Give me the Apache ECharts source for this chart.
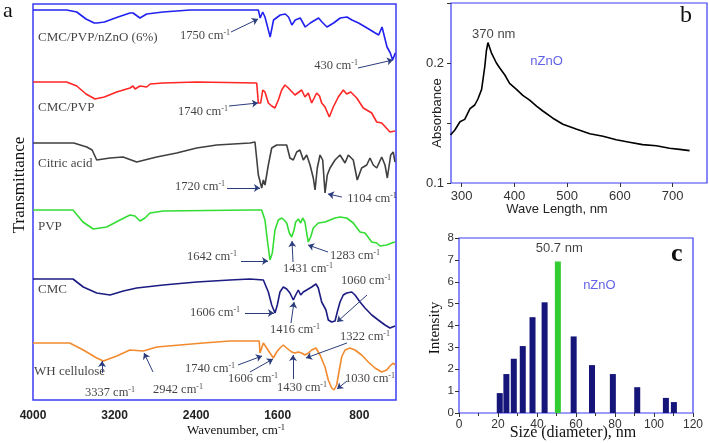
<!DOCTYPE html>
<html><head><meta charset="utf-8">
<script src="https://cdn.jsdelivr.net/npm/echarts@6/dist/echarts.min.js"></script>
<style>html,body{margin:0;padding:0;background:#fff}#c{width:709px;height:443px}</style>
</head><body><div id="c"></div>
<script>
// ---------- Panel a : FTIR spectra (wavenumber cm-1, transmittance a.u. with offsets) ----------
const wnTicks = [4000, 3200, 2400, 1600, 800];
const specZnO = [[4000,390],[3670,390],[3571,388],[3480,381],[3400,377],[3372,377],[3300,378],[3166,383],[3049,387],[3019,387],[2951,382],[2885,386],[2725,388],[2460,390],[1790,390],[1772,382],[1747,388],[1725,383],[1674,363],[1641,380],[1575,385],[1526,386],[1494,383],[1461,375],[1428,380],[1379,382],[1330,373],[1281,377],[1232,380],[1199,382],[1166,378],[1117,373],[1052,377],[987,382],[921,383],[872,380],[807,377],[724,372],[643,367],[610,365],[577,373],[561,372],[528,353],[496,347],[473,340],[447,347]];
const specCmcPvp = [[4000,318],[3670,318],[3571,314],[3480,306],[3392,301],[3300,303],[3179,308],[3049,312],[3019,314],[2999,311],[2951,314],[2885,313],[2850,316],[2725,317],[2395,318],[1806,317],[1790,297],[1767,297],[1747,310],[1725,308],[1692,297],[1659,294],[1627,292],[1594,300],[1561,310],[1529,315],[1496,312],[1431,305],[1365,310],[1333,303],[1300,307],[1267,297],[1218,307],[1190,304],[1169,297],[1136,293],[1094,283],[1055,293],[1006,303],[957,310],[924,306],[884,308],[825,302],[761,292],[678,287],[629,278],[580,277],[499,268],[450,269]];
const specCitric = [[4000,257],[3600,257],[3473,253],[3420,250],[3375,240],[3245,242],[3117,243],[2983,238],[2787,243],[2591,247],[2395,252],[2198,255],[1872,257],[1823,258],[1790,225],[1757,212],[1741,220],[1725,215],[1692,235],[1659,252],[1610,255],[1512,255],[1480,242],[1447,240],[1414,248],[1382,250],[1349,240],[1316,245],[1283,235],[1251,222],[1234,210],[1212,232],[1185,245],[1159,240],[1136,207],[1114,225],[1087,232],[1038,240],[989,245],[940,237],[908,245],[859,240],[820,220],[777,232],[727,235],[695,242],[663,235],[629,232],[580,243],[548,235],[525,222],[492,245],[467,248],[450,238]];
const specPvp = [[4000,190],[3608,190],[3510,178],[3409,171],[3277,173],[3147,180],[3049,185],[3000,184],[2951,179],[2902,182],[2853,187],[2722,189],[1870,190],[1757,190],[1725,180],[1702,160],[1676,140],[1653,147],[1627,170],[1594,180],[1561,182],[1538,180],[1512,177],[1486,167],[1463,163],[1440,170],[1424,178],[1398,181],[1375,177],[1355,182],[1333,178],[1316,167],[1300,158],[1277,163],[1251,172],[1202,177],[1136,178],[1087,180],[1038,182],[989,183],[924,182],[859,177],[793,168],[744,167],[678,158],[629,157],[597,154],[531,155],[482,157],[450,158]];
const specCmc = [[4000,121],[3608,121],[3507,113],[3375,107],[3245,105],[3114,109],[2983,112],[2722,115],[2395,118],[2068,120],[1872,121],[1741,120],[1692,108],[1659,95],[1627,87],[1604,95],[1578,108],[1545,113],[1512,111],[1480,107],[1447,100],[1424,105],[1398,110],[1375,105],[1349,108],[1316,110],[1267,113],[1225,116],[1202,112],[1169,98],[1127,90],[1104,80],[1071,78],[1038,79],[1016,88],[989,98],[957,105],[924,107],[874,108],[842,105],[793,98],[744,92],[678,85],[614,80],[548,75],[499,72],[450,74]];
const specWh = [[4000,57],[3640,57],[3507,50],[3375,42],[3310,39],[3179,44],[3049,50],[2918,49],[2787,53],[2558,55],[2330,57],[2068,59],[1872,59],[1781,59],[1774,47],[1757,45],[1741,57],[1708,52],[1676,47],[1643,42],[1610,48],[1578,52],[1545,55],[1512,52],[1463,48],[1431,47],[1398,48],[1365,47],[1333,45],[1300,47],[1267,50],[1225,52],[1185,45],[1136,33],[1104,20],[1071,12],[1048,10],[1022,15],[996,30],[973,43],[940,50],[891,52],[842,50],[777,45],[712,38],[646,32],[580,28],[531,30],[499,34],[467,37],[450,35]];
// curve names: [text, wavenumber, T]
const curveNames = [['CMC/PVP/nZnO (6%)',3951,362],['CMC/PVP',3951,292],['Citric acid',3951,236],['PVP',3951,173],['CMC',3951,110],['WH cellulose',3990,28]];
// peak notes: [value, labelWn, labelT, arrowFromWn, arrowFromT, arrowTipWn, arrowTipT]
const peakNotes = [
  ['1750',2313,364,2058,368,1793,381],
  ['430',1028,334,813,332,470,340],
  ['1740',2333,288,2078,294,1793,297],
  ['1720',2362,213,2097,212,1774,212],
  ['1104',675,201,970,203,1107,206],
  ['1642',2245,143,1960,139,1695,139],
  ['1431',1303,131,1450,138,1460,159],
  ['1283',842,144,1107,148,1303,155],
  ['1060',734,119,724,105,1019,78],
  ['1606',2215,87,1921,87,1637,87],
  ['1416',1431,70,1470,77,1440,98],
  ['3337',3245,7,3323,27,3323,39],
  ['2942',2578,10,2823,28,2911,47],
  ['1740',2264,31,1990,35,1754,44],
  ['1606',1842,21,1872,28,1646,41],
  ['1430',1362,12,1450,21,1450,45],
  ['1322',744,63,921,57,1323,42],
  ['1030',695,21,921,19,1019,11]
];

// ---------- Panel b : UV-Vis absorbance ----------
const wlTicks = [300, 400, 500, 600, 700];
const uvWavelength = [279,287,297,306,316,325,331,338,344,347,350,357,366,372,382,391,404,416,429,442,454,473,492,517,543,568,593,618,643,669,694,713,732];
const uvAbsorbance = [0.140,0.144,0.151,0.153,0.162,0.165,0.170,0.178,0.197,0.210,0.217,0.208,0.200,0.196,0.190,0.183,0.178,0.173,0.169,0.164,0.160,0.154,0.149,0.145,0.141,0.139,0.136,0.134,0.132,0.131,0.129,0.128,0.127];

// ---------- Panel c : size distribution ----------
const sizeNm = [20.9,24.3,28.1,32.7,37.7,43.9,50.7,58.8,68.2,78.9,91.4,106.1,110.2];
const intensity = [0.91,1.78,2.48,3.06,4.38,5.06,6.93,3.5,2.19,1.78,1.18,0.69,0.5];
const peakSize = 50.7;

const SERIF = 'Liberation Serif';
const SANS = 'Liberation Sans';
const FRAME = '#3b3bf5';
const supRich = {
  n: {fontFamily: SERIF, fontSize: 12.5, color: '#111', lineHeight: 15},
  s: {fontFamily: SERIF, fontSize: 8, color: '#111', verticalAlign: 'top', lineHeight: 9}
};

const chart = echarts.init(document.getElementById('c'), null, {renderer: 'canvas'});

const lineSeries = (data, color) => ({
  type: 'line', xAxisIndex: 0, yAxisIndex: 0, data: data, showSymbol: false,
  lineStyle: {color: color, width: 1.6}, silent: true
});

const option = {
  animation: false,
  backgroundColor: '#fff',
  grid: [
    {left: 33, top: 4, width: 363, height: 396, show: true, borderColor: FRAME, borderWidth: 1.5, backgroundColor: 'transparent'},
    {left: 451, top: 3, width: 256, height: 180, show: true, borderColor: FRAME, borderWidth: 1.2, backgroundColor: 'transparent'},
    {left: 459, top: 238, width: 234, height: 175, show: true, borderColor: FRAME, borderWidth: 1.2, backgroundColor: 'transparent'}
  ],
  xAxis: [
    {gridIndex: 0, type: 'value', min: 440, max: 4000, inverse: true,
     axisLine: {show: false}, splitLine: {show: false}, axisTick: {show: false},
     axisLabel: {customValues: wnTicks, formatter: v => String(v), margin: 10, fontFamily: SANS, fontWeight: 'bold', fontSize: 12, color: '#222'}},
    {gridIndex: 1, type: 'value', min: 280, max: 765,
     axisLine: {show: false}, splitLine: {show: false},
     axisTick: {show: true, customValues: wlTicks, length: 4, lineStyle: {color: '#333'}},
     axisLabel: {customValues: wlTicks, formatter: v => String(v), margin: 7, fontFamily: SANS, fontSize: 13, color: '#333'}},
    {gridIndex: 2, type: 'value', min: 0, max: 120, interval: 20,
     axisLine: {show: false}, splitLine: {show: false},
     axisTick: {show: true, length: 4, lineStyle: {color: '#333'}},
     minorTick: {show: true, splitNumber: 2, length: 3, lineStyle: {color: '#333'}},
     axisLabel: {margin: 6, fontFamily: SANS, fontSize: 12, color: '#333'}}
  ],
  yAxis: [
    {gridIndex: 0, type: 'value', min: 0, max: 396, show: false},
    {gridIndex: 1, type: 'value', min: 0.1, max: 0.25, interval: 0.05,
     axisLine: {show: false}, splitLine: {show: false},
     axisTick: {show: true, length: 4, lineStyle: {color: '#333'}},
     axisLabel: {margin: 7, fontFamily: SANS, fontSize: 13, color: '#333',
       formatter: v => (Math.abs(v - 0.1) < 1e-6 || Math.abs(v - 0.2) < 1e-6) ? v.toFixed(1) : ''}},
    {gridIndex: 2, type: 'value', min: 0, max: 8, interval: 1,
     axisLine: {show: false}, splitLine: {show: false},
     axisTick: {show: true, length: 4, lineStyle: {color: '#333'}},
     axisLabel: {margin: 5, fontFamily: SANS, fontSize: 11.5, color: '#333'}}
  ],
  series: [
    lineSeries(specZnO, '#2222f0'),
    lineSeries(specCmcPvp, '#ff2626'),
    lineSeries(specCitric, '#404040'),
    lineSeries(specPvp, '#33dd33'),
    lineSeries(specCmc, '#1c1c82'),
    lineSeries(specWh, '#f28a2e'),
    { // curve names
      type: 'scatter', xAxisIndex: 0, yAxisIndex: 0, symbolSize: 0, silent: true,
      data: curveNames.map(c => ({value: [c[1], c[2]], name: c[0]})),
      label: {show: true, position: 'right', distance: 0, formatter: p => p.name,
        fontFamily: SERIF, fontSize: 13, color: '#111'}
    },
    { // peak notes + arrows
      type: 'scatter', xAxisIndex: 0, yAxisIndex: 0, symbolSize: 0, silent: true,
      data: peakNotes.map(p => ({value: [p[1], p[2]], name: p[0]})),
      label: {show: true, position: 'inside', formatter: p => '{n|' + p.name + ' cm}{s|-1}', rich: supRich},
      markLine: {
        silent: true, symbol: ['none', 'arrow'], symbolSize: 6, animation: false,
        label: {show: false},
        lineStyle: {color: '#2c3d7c', width: 1, type: 'solid'},
        emphasis: {disabled: true},
        data: peakNotes.map(p => [{coord: [p[3], p[4]]}, {coord: [p[5], p[6]]}])
      }
    },
    { // panel b curve
      type: 'line', xAxisIndex: 1, yAxisIndex: 1, showSymbol: false, silent: true,
      data: uvWavelength.map((w, i) => [w, uvAbsorbance[i]]),
      lineStyle: {color: '#000', width: 1.6}
    },
    { // panel b notes
      type: 'scatter', xAxisIndex: 1, yAxisIndex: 1, symbolSize: 0, silent: true,
      data: [
        {value: [361, 0.2237], name: '370 nm', label: {color: '#111'}},
        {value: [461, 0.2011], name: 'nZnO', label: {color: '#3a3ae0'}}
      ],
      label: {show: true, position: 'inside', formatter: p => p.name, fontFamily: SANS, fontSize: 13}
    },
    { // panel c bars
      type: 'bar', xAxisIndex: 2, yAxisIndex: 2, barWidth: 6, silent: true,
      data: sizeNm.map((s, i) => ({value: [s, intensity[i]],
        itemStyle: {color: s === peakSize ? '#33cc33' : '#15157a'}}))
    },
    { // panel c notes
      type: 'scatter', xAxisIndex: 2, yAxisIndex: 2, symbolSize: 0, silent: true,
      data: [
        {value: [51.4, 7.53], name: '50.7 nm', label: {color: '#111'}},
        {value: [72, 5.81], name: 'nZnO', label: {color: '#3a3ae0'}}
      ],
      label: {show: true, position: 'inside', formatter: p => p.name, fontFamily: SANS, fontSize: 13}
    }
  ],
  graphic: [
    {type: 'text', left: 3, top: 0, style: {text: 'a', fontFamily: SERIF, fontSize: 22, fill: '#111'}},
    {type: 'text', x: 680, y: 4, style: {text: 'b', fontFamily: SERIF, fontSize: 24, fill: '#111'}},
    {type: 'text', x: 671, y: 241, style: {text: 'c', fontFamily: SERIF, fontSize: 26, fontWeight: 'bold', fill: '#111'}},
    {type: 'text', x: 20, y: 185, rotation: Math.PI / 2,
     style: {text: 'Transmittance', fontFamily: SERIF, fontSize: 17, fill: '#111', align: 'center', verticalAlign: 'middle'}},
    {type: 'text', x: 236, y: 431,
     style: {text: '{n|Wavenumber, cm}{s|-1}', rich: {
       n: {fontFamily: SERIF, fontSize: 13, fill: '#111', lineHeight: 15},
       s: {fontFamily: SERIF, fontSize: 8.5, fill: '#111', verticalAlign: 'top', lineHeight: 9}},
       align: 'center', verticalAlign: 'middle'}},
    {type: 'text', x: 437, y: 113, rotation: Math.PI / 2,
     style: {text: 'Absorbance', fontFamily: SANS, fontSize: 13, fill: '#222', align: 'center', verticalAlign: 'middle'}},
    {type: 'text', x: 557, y: 209,
     style: {text: 'Wave Length, nm', fontFamily: SANS, fontSize: 13, fill: '#222', align: 'center', verticalAlign: 'middle'}},
    {type: 'text', x: 435, y: 328, rotation: Math.PI / 2,
     style: {text: 'Intensity', fontFamily: SERIF, fontSize: 15, fill: '#111', align: 'center', verticalAlign: 'middle'}},
    {type: 'text', x: 573, y: 433,
     style: {text: 'Size (diameter), nm', fontFamily: SERIF, fontSize: 16, fill: '#111', align: 'center', verticalAlign: 'middle'}}
  ]
};
chart.setOption(option);
</script></body></html>
